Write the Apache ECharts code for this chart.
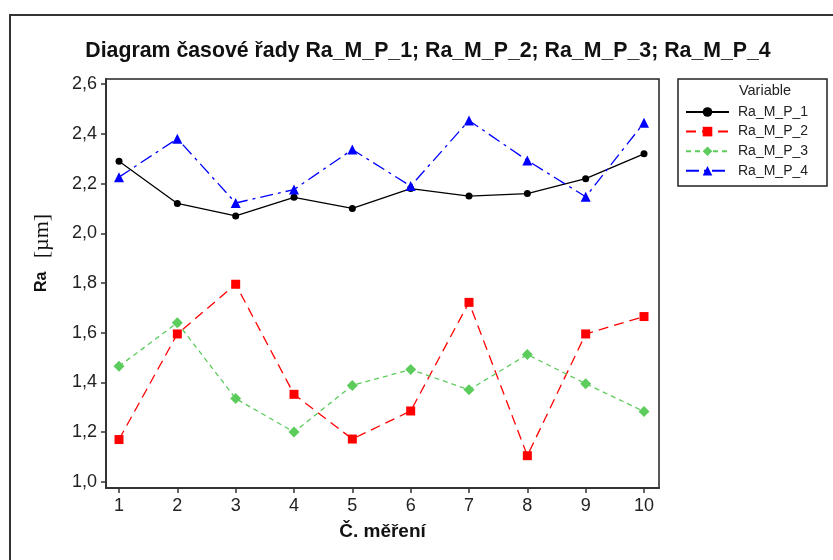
<!DOCTYPE html>
<html>
<head>
<meta charset="utf-8">
<title>Diagram časové řady</title>
<script src="https://cdn.jsdelivr.net/npm/echarts@6/dist/echarts.min.js"></script>
<style>
  html, body { margin: 0; padding: 0; background: #fff; }
  #main { width: 833px; height: 560px; }
</style>
</head>
<body>
<div id="main"></div>
<script>
// měření 1..10
const mereni = [1, 2, 3, 4, 5, 6, 7, 8, 9, 10]
const yTicks = [1.0, 1.2, 1.4, 1.6, 1.8, 2.0, 2.2, 2.4, 2.6]
const names = ['Ra_M_P_1', 'Ra_M_P_2', 'Ra_M_P_3', 'Ra_M_P_4']

const raMP1 = [2.29, 2.12, 2.07, 2.145, 2.10, 2.18, 2.15, 2.16, 2.22, 2.32]
const raMP2 = [1.17, 1.595, 1.795, 1.352, 1.172, 1.285, 1.722, 1.105, 1.595, 1.665]
const raMP3 = [1.465, 1.64, 1.335, 1.20, 1.388, 1.452, 1.37, 1.512, 1.395, 1.283]
const raMP4 = [2.226, 2.381, 2.122, 2.176, 2.337, 2.19, 2.454, 2.293, 2.147, 2.445]

const pairs = (vals) => mereni.map((x, i) => [x, vals[i]])
const comma = (v) => v.toFixed(1).replace('.', ',')

const chart = echarts.init(document.getElementById('main'))

const option = {
  animation: false,
  textStyle: { fontFamily: 'Liberation Sans, Arial, sans-serif' },
  title: {
    text: 'Diagram časové řady Ra_M_P_1; Ra_M_P_2; Ra_M_P_3; Ra_M_P_4',
    left: 423,
    textAlign: 'center',
    top: 36,
    textStyle: { fontSize: 21.3, fontWeight: 'bold', color: '#111' }
  },
  grid: {
    left: 106, top: 79, right: 174, bottom: 72,
    show: true, borderColor: '#222', borderWidth: 1.5
  },
  xAxis: {
    type: 'value',
    min: 0.777,
    max: 10.257,
    name: 'Č. měření',
    nameLocation: 'middle',
    nameGap: 34,
    nameTextStyle: { fontSize: 19, fontWeight: 'bold', color: '#111' },
    axisLine: { lineStyle: { color: '#333', width: 2 } },
    axisTick: { customValues: mereni, length: 5, lineStyle: { color: '#333', width: 1.5 } },
    axisLabel: { customValues: mereni, fontSize: 18, color: '#222', margin: 9 },
    splitLine: { show: false }
  },
  yAxis: {
    type: 'value',
    min: 0.975,
    max: 2.621,
    axisLine: { show: true, lineStyle: { color: '#333', width: 2 } },
    axisTick: { show: true, customValues: yTicks, length: 5, lineStyle: { color: '#333', width: 1.5 } },
    axisLabel: { customValues: yTicks, fontSize: 18, color: '#222', margin: 9, formatter: comma },
    splitLine: { show: false }
  },
  legend: {
    orient: 'vertical',
    left: 680,
    top: 100,
    itemWidth: 43,
    itemHeight: 12,
    itemGap: 5.6,
    textStyle: { fontSize: 14, lineHeight: 12, color: '#222', padding: [0, 0, 0, 4] },
    data: names
  },
  graphic: [
    {
      type: 'rect',
      shape: { x: 10, y: 15, width: 840, height: 560 },
      style: { fill: 'none', stroke: '#333', lineWidth: 2 },
      silent: true, z: -1
    },
    {
      type: 'rect',
      shape: { x: 678, y: 79, width: 149, height: 107 },
      style: { fill: 'none', stroke: '#222', lineWidth: 1.5 },
      silent: true
    },
    {
      type: 'text',
      x: 765, y: 91,
      style: { text: 'Variable', fontSize: 14.5, fill: '#222', align: 'center', verticalAlign: 'middle', fontFamily: 'Liberation Sans' },
      silent: true
    },
    {
      // název osy Y
      type: 'text',
      x: 42, y: 253,
      rotation: Math.PI / 2,
      style: {
        text: '{a|Ra   }{b|[µm]}',
        align: 'center', verticalAlign: 'middle',
        rich: {
          a: { fontSize: 16, fontWeight: 'bold', fill: '#111', fontFamily: 'Liberation Sans' },
          b: { fontSize: 22, fill: '#111', fontFamily: 'Liberation Serif' }
        }
      },
      silent: true
    }
  ],
  series: [
    {
      name: names[0], type: 'line', data: pairs(raMP1),
      color: '#000000', symbol: 'circle', symbolSize: 7,
      lineStyle: { width: 1.3, type: 'solid' }
    },
    {
      name: names[1], type: 'line', data: pairs(raMP2),
      color: '#ff0000', symbol: 'rect', symbolSize: 9,
      lineStyle: { width: 1.3, type: [10, 6] }
    },
    {
      name: names[2], type: 'line', data: pairs(raMP3),
      color: '#5ccc5c', symbol: 'diamond', symbolSize: 11,
      lineStyle: { width: 1.3, type: [5, 4] }
    },
    {
      name: names[3], type: 'line', data: pairs(raMP4),
      color: '#0000ff', symbol: 'triangle', symbolSize: 10,
      lineStyle: { width: 1.3, type: [13, 5, 3, 5] }
    }
  ]
}

chart.setOption(option)
</script>
</body>
</html>
